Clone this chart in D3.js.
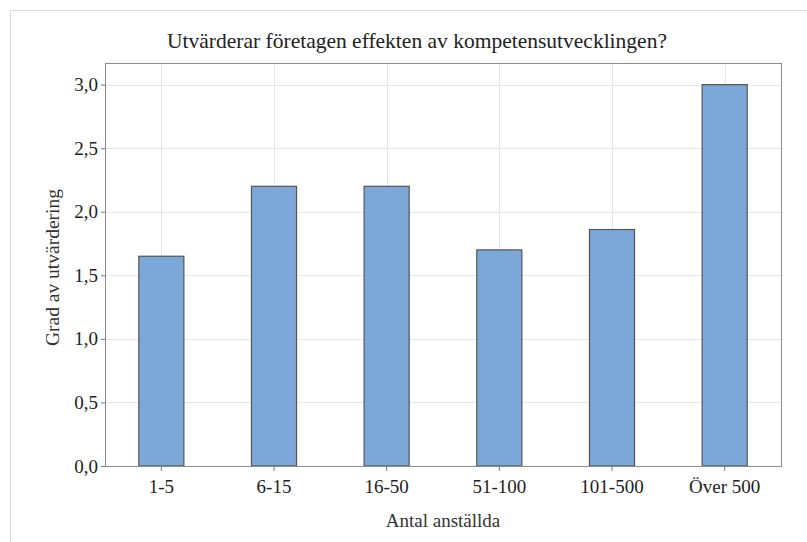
<!DOCTYPE html>
<html>
<head>
<meta charset="utf-8">
<script src="https://cdn.jsdelivr.net/npm/d3@7"></script>
<style>
  body { margin: 0; background: #fff; }
  svg { display: block; }
  svg text { font-family: "Liberation Serif", "DejaVu Serif", serif; }
</style>
</head>
<body>
<svg width="807" height="542"></svg>
<script>
// data
const categories = ['1-5', '6-15', '16-50', '51-100', '101-500', 'Över 500'];
const values = [1.65, 2.2, 2.2, 1.7, 1.86, 3.0];
const yTicks = [0, 0.5, 1, 1.5, 2, 2.5, 3];

const svg = d3.select('svg');
const margin = {top: 63, left: 105, right: 26, bottom: 76};
const inner_width = 807 - margin.left - margin.right;
const inner_height = 542 - margin.top - margin.bottom;

// outer panel frame
svg.append('rect')
    .attr('x', 10.5).attr('y', 10.5)
    .attr('width', 1000).attr('height', 1000)
    .attr('fill', 'none')
    .attr('stroke', '#dcdcdc');

const g = svg.append('g')
    .attr('transform', `translate(${margin.left},${margin.top})`);

const xscale = d3.scaleBand()
    .domain(categories)
    .range([0, inner_width]);

const yscale = d3.scaleLinear()
    .domain([0, 3.17])
    .range([inner_height, 0]);

// grid
g.selectAll('.hgrid').data(yTicks)
  .enter().append('line')
    .attr('x1', 0).attr('x2', inner_width)
    .attr('y1', d => Math.round(yscale(d)) + 0.5)
    .attr('y2', d => Math.round(yscale(d)) + 0.5)
    .attr('stroke', '#e6e6e6');

g.selectAll('.vgrid').data(categories)
  .enter().append('line')
    .attr('x1', d => Math.round(xscale(d) + xscale.bandwidth() / 2) + 0.5)
    .attr('x2', d => Math.round(xscale(d) + xscale.bandwidth() / 2) + 0.5)
    .attr('y1', 0).attr('y2', inner_height)
    .attr('stroke', '#e6e6e6');

// bars
const barW = xscale.bandwidth() * 0.4;
g.selectAll('.bar').data(values)
  .enter().append('rect')
    .attr('x', (d, i) => xscale(categories[i]) + (xscale.bandwidth() - barW) / 2)
    .attr('y', d => yscale(d))
    .attr('width', barW)
    .attr('height', d => inner_height - yscale(d))
    .attr('fill', '#7ba7d9')
    .attr('stroke', '#555')
    .attr('stroke-width', 1.2);

// frame
g.append('rect')
    .attr('x', 0.5).attr('y', 0.5)
    .attr('width', inner_width).attr('height', inner_height)
    .attr('fill', 'none')
    .attr('stroke', '#8c8c8c');

// axes
const yAxis = g.append('g')
    .call(d3.axisLeft(yscale).tickValues(yTicks).tickSize(4).tickPadding(3)
        .tickFormat(d => d3.format('.1f')(d).replace('.', ',')));
const xAxis = g.append('g')
    .attr('transform', `translate(0,${inner_height})`)
    .call(d3.axisBottom(xscale).tickSize(5).tickPadding(9));

[yAxis, xAxis].forEach(a => {
    a.select('.domain').remove();
    a.selectAll('.tick line').attr('stroke', '#777');
    a.selectAll('.tick text')
        .attr('fill', '#222')
        .attr('font-family', '"Liberation Serif", serif')
        .attr('font-size', 19);
});

// titles
svg.append('text')
    .attr('x', 417).attr('y', 48)
    .attr('text-anchor', 'middle')
    .attr('font-family', '"Liberation Serif", serif')
    .attr('font-size', 21.5)
    .attr('fill', '#222')
    .text('Utvärderar företagen effekten av kompetensutvecklingen?');

svg.append('text')
    .attr('x', margin.left + inner_width / 2).attr('y', 527)
    .attr('text-anchor', 'middle')
    .attr('font-family', '"Liberation Serif", serif')
    .attr('font-size', 19)
    .attr('fill', '#333')
    .text('Antal anställda');

svg.append('text')
    .attr('transform', `translate(59,${margin.top + inner_height / 2 + 3}) rotate(-90)`)
    .attr('text-anchor', 'middle')
    .attr('font-family', '"Liberation Serif", serif')
    .attr('font-size', 19.5)
    .attr('fill', '#333')
    .text('Grad av utvärdering');
</script>
</body>
</html>
